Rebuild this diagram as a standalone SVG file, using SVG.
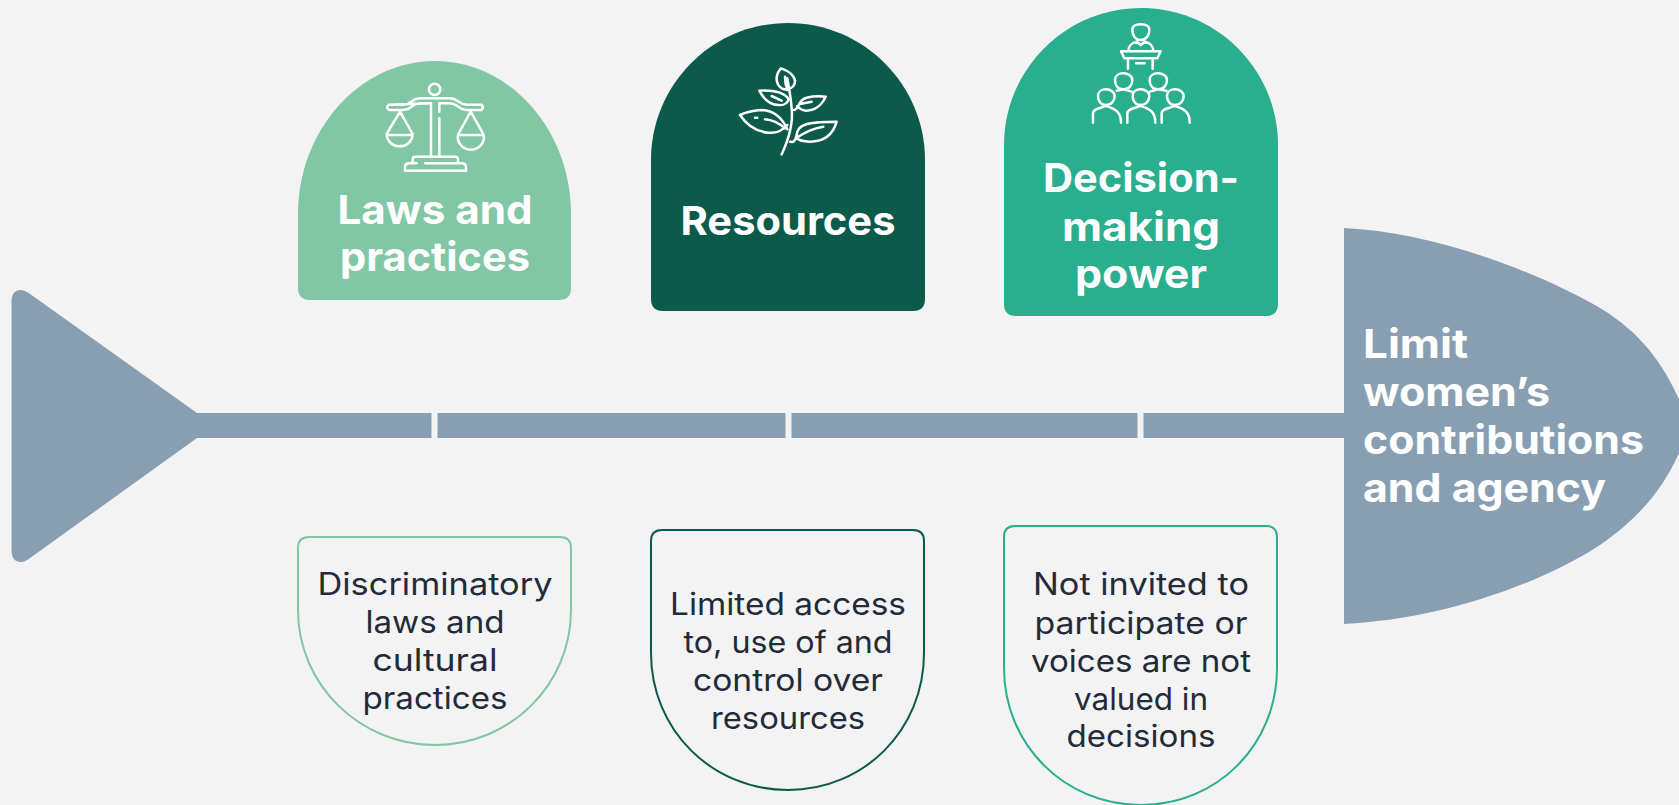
<svg xmlns="http://www.w3.org/2000/svg" width="1679" height="805" viewBox="0 0 1679 805">
<style>
text{font-family:"Inter","Open Sans","Liberation Sans",sans-serif;text-anchor:middle}
.h{font-weight:700;font-size:40px;fill:#fff}
.l{font-weight:700;font-size:40px;fill:#fff;text-anchor:start}
.b{font-weight:400;font-size:31px;fill:#232b3a}
.i{fill:none;stroke:#fff;stroke-width:7.500;stroke-linecap:round;stroke-linejoin:round}
.link{fill:#f3f3f3;stroke:#f5f5f5;stroke-width:1}
</style>
<rect width="1679" height="805" fill="#f3f3f3"/>
<g id="spine">
<path d="M11.500 302Q11.500 290 21 290Q24 290 28 292.500L197 413H1344V438H197L28 559.500Q24 562 21 562Q11.500 562 11.500 550Z" fill="#889fb3"/>
<path d="M1344 228C1430 232 1530 268 1600 308C1650 338 1672 378 1690 426C1672 476 1650 510 1600 545C1530 590 1430 620 1344 624Z" fill="#889fb3"/>
</g>
<g id="connectors">
<path class="link" d="M413 318Q432 322 432 345V495Q432 515 413 523H457Q437 515 437 495V345Q437 322 457 318Z"/>
<path class="link" d="M767 330Q786 334 786 357V480Q786 500 767 508H811Q791 500 791 480V357Q791 334 811 330Z"/>
<path class="link" d="M1120 335Q1138 339 1138 362V478Q1138 498 1120 506H1162Q1143 498 1143 478V362Q1143 339 1162 335Z"/>
</g>
<text class="l" x="1363" y="358" textLength="105" lengthAdjust="spacingAndGlyphs">Limit</text>
<text class="l" x="1363" y="406" textLength="187" lengthAdjust="spacingAndGlyphs">women’s</text>
<text class="l" x="1363" y="454" textLength="281" lengthAdjust="spacingAndGlyphs">contributions</text>
<text class="l" x="1363" y="502" textLength="243" lengthAdjust="spacingAndGlyphs">and agency</text>
<g id="laws">
<path d="M298 214C298 130 360 61 435 61C510 61 571 130 571 214V288Q571 300 559 300H310Q298 300 298 288Z" fill="#82c7a5"/>
<g transform="translate(350 60) scale(.33333)">
<circle class="i" cx="254" cy="88" r="17"/>
<path class="i" d="M118 134H160C185 134 185 115 210 115H300C325 115 325 134 350 134H395Q402 142 395 150H350C325 150 325 130 300 130H268M243 130H210C185 130 185 150 160 150H118Q104 142 118 134Z"/>
<path class="i" d="M243 130V288M268 130V155M268 175V288"/>
<path class="i" d="M150 155L110 222A39 37 0 1 0 188 222ZM110 225H188M362 155L325 222A39 37 0 1 0 400 222ZM325 225H400"/>
<path class="i" d="M188 310V298Q188 290 196 290H315Q324 290 324 298V310M226 310H335Q348 310 348 322V332H165V322Q165 310 178 310H200"/>
</g>
<text class="h" x="435" y="224" textLength="195" lengthAdjust="spacingAndGlyphs">Laws and</text>
<text class="h" x="435" y="271" textLength="190" lengthAdjust="spacingAndGlyphs">practices</text>
</g>
<g id="resources">
<path d="M651 160C651 85 712 23 788 23C864 23 925 85 925 160V299Q925 311 913 311H663Q651 311 651 299Z" fill="#0c5a4a"/>
<g transform="translate(710 50) scale(.33333)">
<path class="i" d="M215 313C235 270 250 220 245 175C243 150 240 130 232 85M213 55C195 75 195 100 215 115C225 120 240 120 250 108C265 90 245 65 213 55ZM232 120C225 100 225 90 225 80"/>
<path class="i" d="M236 148C225 130 195 120 148 122C160 145 180 165 205 165C220 167 232 160 236 148ZM185 138L215 152M252 180C268 178 262 150 290 143C310 138 330 138 347 140C335 165 320 180 290 182C280 182 270 178 262 168M270 162L305 155"/>
<path class="i" d="M232 238C215 200 190 180 150 180C125 182 105 188 90 195C110 225 140 245 175 248C195 250 215 245 232 225M135 203H142M165 208C190 210 205 218 225 235M240 275C255 280 258 265 262 245C270 222 300 215 380 215C370 250 345 275 300 275C285 275 265 272 258 262M262 262C280 250 305 235 340 230"/>
</g>
<text class="h" x="788" y="235" textLength="215" lengthAdjust="spacingAndGlyphs">Resources</text>
</g>
<g id="decision">
<path d="M1004 145C1004 70 1065 8 1141 8C1217 8 1278 70 1278 145V304Q1278 316 1266 316H1016Q1004 316 1004 304Z" fill="#29ae8e"/>
<g transform="translate(1070 10) scale(.33333)">
<path class="i" d="M212 90C195 90 187 75 187 60C187 50 195 43 212 43C229 43 238 50 238 60C238 75 229 90 212 90ZM175 122C175 105 190 98 200 95L212 105L225 95C235 98 250 105 250 122M153 124H272L262 145H163ZM174 145V176M248 145V176M198 160H224"/>
<path class="i" d="M160 238C143 238 135 225 135 210C135 198 145 190 160 190C175 190 187 198 187 210C187 225 177 238 160 238ZM264 238C247 238 239 225 239 210C239 198 249 190 264 190C279 190 291 198 291 210C291 225 281 238 264 238ZM140 242L160 238L185 245M240 245L264 238L290 242"/>
<path class="i" d="M108 285C92 285 84 272 84 258C84 246 94 238 108 238C122 238 134 246 134 258C134 272 124 285 108 285ZM212 285C196 285 188 272 188 258C188 246 198 238 212 238C226 238 238 246 238 258C238 272 228 285 212 285ZM315 285C299 285 291 272 291 258C291 246 301 238 315 238C329 238 341 246 341 258C341 272 331 285 315 285Z"/>
<path class="i" d="M69 338V310C69 295 95 295 108 287C121 295 153 295 153 338M172 338V310C172 295 198 295 212 287C226 295 256 295 256 338M275 338V310C275 295 301 295 315 287C329 295 359 295 359 338"/>
</g>
<text class="h" x="1141" y="192" textLength="196" lengthAdjust="spacingAndGlyphs">Decision-</text>
<text class="h" x="1141" y="241" textLength="158" lengthAdjust="spacingAndGlyphs">making</text>
<text class="h" x="1141" y="288" textLength="132" lengthAdjust="spacingAndGlyphs">power</text>
</g>
<g id="laws-detail">
<path d="M298 548Q298 537 309 537H560Q571 537 571 548V610C571 685 510 745 435 745C360 745 298 685 298 610Z" fill="none" stroke="#82c7a5" stroke-width="2"/>
<text class="b" x="435" y="595" textLength="235" lengthAdjust="spacingAndGlyphs">Discriminatory</text>
<text class="b" x="435" y="633" textLength="139" lengthAdjust="spacingAndGlyphs">laws and</text>
<text class="b" x="435" y="671" textLength="125" lengthAdjust="spacingAndGlyphs">cultural</text>
<text class="b" x="435" y="709" textLength="145" lengthAdjust="spacingAndGlyphs">practices</text>
</g>
<g id="resources-detail">
<path d="M651 541Q651 530 662 530H913Q924 530 924 541V653C924 730 864 790 788 790C712 790 651 730 651 653Z" fill="none" stroke="#0c5a4a" stroke-width="2"/>
<text class="b" x="788" y="615" textLength="236" lengthAdjust="spacingAndGlyphs">Limited access</text>
<text class="b" x="788" y="653" textLength="209" lengthAdjust="spacingAndGlyphs">to, use of and</text>
<text class="b" x="788" y="691" textLength="190" lengthAdjust="spacingAndGlyphs">control over</text>
<text class="b" x="788" y="729" textLength="154" lengthAdjust="spacingAndGlyphs">resources</text>
</g>
<g id="decision-detail">
<path d="M1004 537Q1004 526 1015 526H1266Q1277 526 1277 537V668C1277 745 1217 805 1141 805C1065 805 1004 745 1004 668Z" fill="none" stroke="#29ae8e" stroke-width="2"/>
<text class="b" x="1141" y="595" textLength="216" lengthAdjust="spacingAndGlyphs">Not invited to</text>
<text class="b" x="1141" y="634" textLength="213" lengthAdjust="spacingAndGlyphs">participate or</text>
<text class="b" x="1141" y="672" textLength="220" lengthAdjust="spacingAndGlyphs">voices are not</text>
<text class="b" x="1141" y="710" textLength="134" lengthAdjust="spacingAndGlyphs">valued in</text>
<text class="b" x="1141" y="747" textLength="149" lengthAdjust="spacingAndGlyphs">decisions</text>
</g>
</svg>
